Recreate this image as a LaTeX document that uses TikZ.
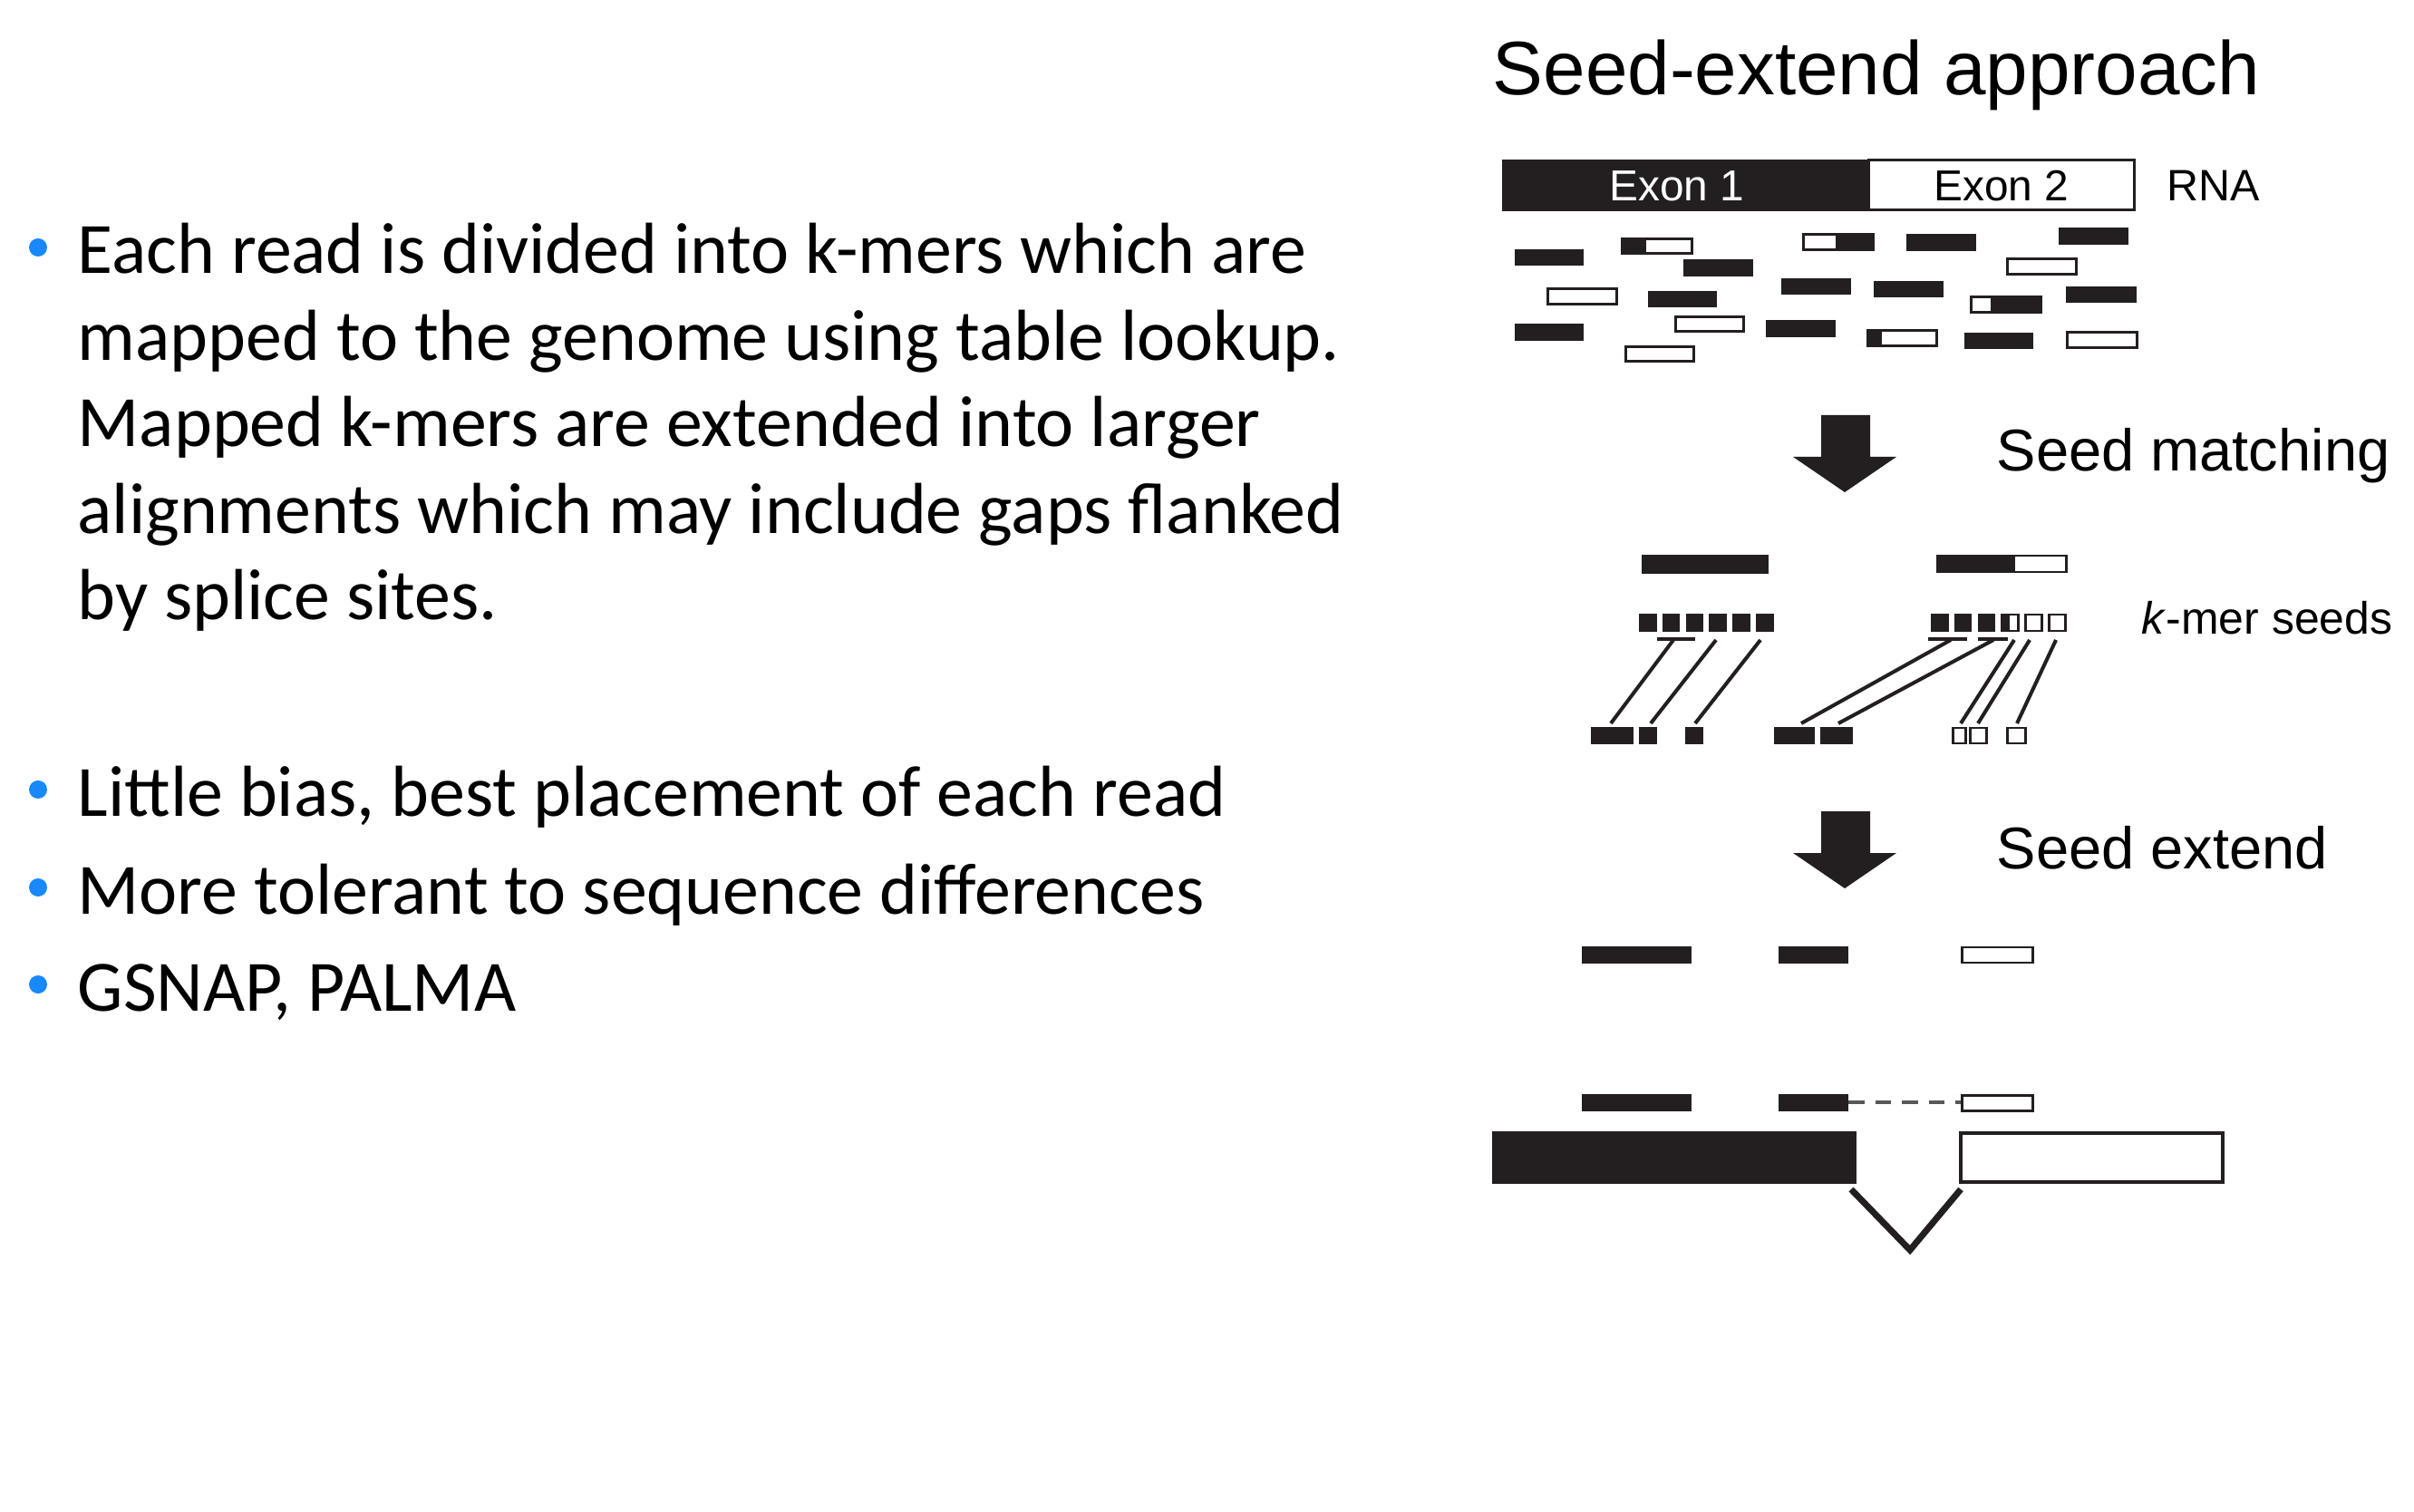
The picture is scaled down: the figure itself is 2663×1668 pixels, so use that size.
\documentclass[tikz,border=0pt]{standalone}
\usepackage{fontspec}
\setmainfont{Carlito}
\newfontfamily\helv{Liberation Sans}
\usetikzlibrary{positioning}
\definecolor{ink}{RGB}{35,31,32}
\definecolor{dotblue}{RGB}{24,136,250}
\tikzset{
  whiteread/.style={draw=ink,fill=white,line width=0.85pt},
  hitline/.style={draw=ink,line width=1.15pt},
  caption/.style={inner sep=0pt,anchor=base west,font=\helv\fontsize{#1}{#1}\selectfont},
  bodyline/.style={inner sep=0pt,anchor=base west,font=\fontsize{22.7}{27.2}\selectfont},
}

\begin{document}
\begin{tikzpicture}[x=0.1mm,y=-0.1mm]
  \useasboundingbox (0,0) rectangle (2663,1668);

  % bullet text
  \foreach \y/\txt [count=\i] in {302/{Each read is divided into k-mers which are},
      398/{mapped to the genome using table lookup.},
      493/{Mapped k-mers are extended into larger},
      589/{alignments which may include gaps flanked},
      684/{by splice sites.},
      900/{Little bias, best placement of each read},
      1008/{More tolerant to sequence differences},
      1115/{GSNAP, PALMA}}
    \node[bodyline] (line\i) at (85,\y) {\txt};
  \foreach \y in {302,900,1008,1115}
    \fill[dotblue] (42,\y-29) circle (10);

  % title and RNA
  \node[caption=23.8] (title) at (1646,105) {Seed-extend approach};
  \fill[ink] (1657,176) rectangle (2061,233);
  \draw[ink,line width=0.85pt] (2061,177) rectangle (2354,232);
  \node[caption=13.6,anchor=base,text=white] (exon1) at (1850,222) {Exon 1};
  \node[caption=13.6,anchor=base] (exon2) at (2208,222) {Exon 2};
  \node[caption=13.8] (rna) at (2390,222) {RNA};

  % reads
  \foreach \xa/\ya/\xb/\yb in {1671/275/1747/293,1857/286/1934/305,2103/258/2180/277,
      2271/251/2348/270,1818/321/1894/339,1965/307/2042/325,2067/310/2144/328,
      2279/316/2357/334,1671/357/1747/376,1948/353/2025/372,2167/367/2243/385}
    \fill[ink] (\xa,\ya) rectangle (\xb,\yb);
  \foreach \xa/\ya/\xb/\yb in {2214/286/2290/303,1707/319/1783/336,1848/350/1923/366,
      1793/383/1868/399,2280/367/2357/384}
    \draw[whiteread] (\xa,\ya) rectangle (\xb,\yb);
  \foreach \xa/\ya/\xb/\yb/\fa/\fb in {1789/264/1866/280/1789/1816,1989/259/2066/276/2025/2066,
      2174/328/2251/345/2196/2251,2060/365/2136/382/2060/2076}{
    \draw[whiteread] (\xa,\ya) rectangle (\xb,\yb);
    \fill[ink] (\fa,\ya) rectangle (\fb,\yb);
  }

  % block arrows
  \foreach \t in {458,895}
    \fill[ink] (2009,\t) -- ++(54,0) -- ++(0,46) -- ++(29,0) -- ++(-57,39)
      -- ++(-57,-39) -- ++(31,0) -- cycle;
  \node[caption=18.5] (matching) at (2202,520) {Seed matching};
  \node[caption=18.5] (extend) at (2202,958) {Seed extend};

  % seeds
  \fill[ink] (1811,612) rectangle (1951,633);
  \draw[whiteread] (2137,613) rectangle (2279,631);
  \fill[ink] (2136,612) rectangle (2223,632);
  \foreach \k in {0,...,5}
    \fill[ink] ({1808+25.8*\k},677) rectangle ++(19.5,20);
  \foreach \k in {0,1,2}
    \fill[ink] ({2130+25.8*\k},677) rectangle ++(19.5,20);
  \foreach \k in {3,4,5}
    \draw[whiteread] ({2131+25.8*\k},678) rectangle ++(18,18);
  \fill[ink] (2207,677) rectangle (2217,697);
  \node[caption=14.2] (kmer) at (2362,700) {\textit{k}-mer seeds};

  \foreach \xa/\xb in {1828/1870,2127/2170,2182/2215}
    \draw[hitline] (\xa,705) -- (\xb,705);
  \foreach \xs/\xe [count=\i] in {1846/1777,1893/1821,1942/1870,2152/1987,
      2199/2028,2222/2163,2239/2182,2268/2225}{
    \coordinate (seed\i) at (\xs,706);
    \coordinate (hit\i) at (\xe,798);
    \draw[hitline] (seed\i) -- (hit\i);
  }
  \foreach \xa/\xb in {1755/1802,1808/1828,1859/1879,1957/2002,2008/2044}
    \fill[ink] (\xa,802) rectangle (\xb,821);
  \foreach \xa/\xb in {2154/2168,2173/2191,2214/2234}
    \draw[whiteread] (\xa,803) rectangle (\xb,820);

  % extended alignments
  \foreach \y in {1044,1207}{
    \fill[ink] (1745,\y) rectangle ++(121,19);
    \fill[ink] (1962,\y) rectangle ++(77,19);
    \draw[whiteread] (2164,\y+1) rectangle ++(78,17);
  }
  \coordinate (gapL) at (2039,1216);
  \coordinate (gapR) at (2163,1216);
  \draw[ink!75,line width=1.1pt,dash pattern=on 5pt off 3.4pt] (gapL) -- (gapR);

  % genome
  \fill[ink] (1646,1248) rectangle (2048,1306);
  \draw[ink,line width=1.15pt] (2163,1250) rectangle (2452,1304);
  \draw[ink,line width=2pt] (2042,1312) -- (2107,1379) -- (2163,1312);
\end{tikzpicture}
\end{document}
